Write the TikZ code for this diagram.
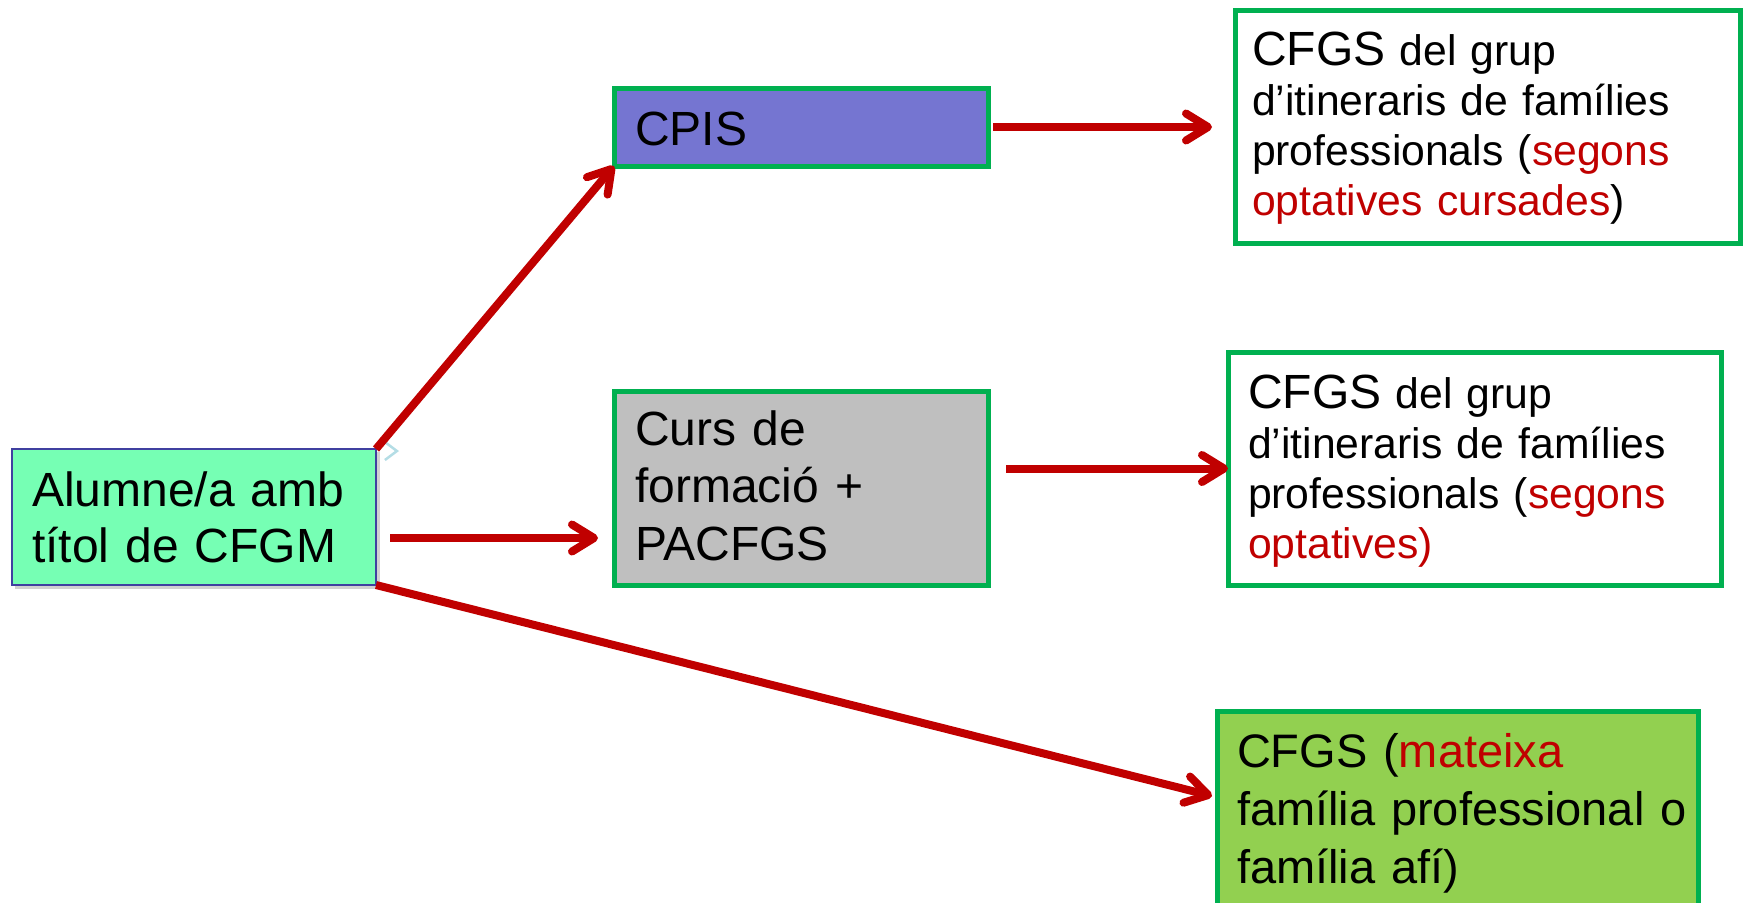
\documentclass[tikz,border=0pt]{standalone}
\usepackage{fontspec}
\setmainfont{Liberation Sans}
\usetikzlibrary{arrows.meta,calc}
\definecolor{redarrow}{HTML}{C00000}
\definecolor{gborder}{HTML}{00B050}
\definecolor{mint}{RGB}{118,255,180}
\definecolor{navyedge}{HTML}{4040A0}
\definecolor{cpisfill}{RGB}{117,117,209}
\definecolor{grayfill}{HTML}{BFBFBF}
\definecolor{limefill}{HTML}{92D050}
\definecolor{ghostblue}{RGB}{180,221,229}
\begin{document}
\begin{tikzpicture}[x=1pt,y=-1pt,
  gbox/.style={draw=gborder,line width=5pt,anchor=north west,inner sep=0pt,outer sep=0pt},
  txt/.style={anchor=base west,inner sep=0pt,outer sep=0pt,text width=560pt,align=left},
  arr/.style={draw=redarrow,line width=8pt,-{Straight Barb[length=22pt,width=27pt,line cap=round,line join=round]}},
  bigfont/.style={font=\fontsize{48}{56}\selectfont},
]
\useasboundingbox (0,0) rectangle (1744,902);
\clip (0,0) rectangle (1744,902);

% left box with shadow
\fill[black,opacity=0.18] (15,452) rectangle (380,589);
\node[draw=navyedge,line width=1.5pt,fill=mint,anchor=north west,inner sep=0pt,outer sep=0pt,
      minimum width=364pt,minimum height=136pt] (lbox) at (12,449) {};
\node[txt,bigfont] (ltext) at (32,506) {Alumne/a amb\\títol de CFGM};

% middle column
\node[gbox,fill=cpisfill,minimum width=374pt,minimum height=78pt] (cpis) at (614,88) {};
\node[txt,bigfont] (cpistext) at (635,145) {CPIS};

\node[gbox,fill=grayfill,minimum width=374pt,minimum height=194pt] (curs) at (614,391) {};
\node[txt,font=\fontsize{48}{57.5}\selectfont] (curstext) at (635,445) {Curs de\\formació +\\PACFGS};

% right column
\node[gbox,fill=white,minimum width=505pt,minimum height=233pt] (trbox) at (1235,10) {};
\node[txt,font=\fontsize{42.7}{50}\selectfont] (trtext) at (1252,65)
  {{\fontsize{48}{50}\selectfont CFGS} del grup\\d’itineraris de famílies\\professionals (\textcolor{redarrow}{segons}\\\textcolor{redarrow}{optatives cursades})};

\node[gbox,fill=white,minimum width=493pt,minimum height=233pt] (mrbox) at (1228,352) {};
\node[txt,font=\fontsize{42.7}{50}\selectfont] (mrtext) at (1248,408)
  {{\fontsize{48}{50}\selectfont CFGS} del grup\\d’itineraris de famílies\\professionals (\textcolor{redarrow}{segons}\\\textcolor{redarrow}{optatives)}};

\node[gbox,fill=limefill,minimum width=481pt,minimum height=230pt] (bbox) at (1217,711) {};
\node[txt,font=\fontsize{47}{58}\selectfont] (btext) at (1237,767)
  {CFGS (\textcolor{redarrow}{mateixa}\\família professional o\\família afí)};

% faint leftover arrowhead
\coordinate (ghostend) at (399,451);
\draw[ghostblue,line width=2.5pt,-{Straight Barb[length=12pt,width=18pt]}] ($(ghostend)+(-1,0)$) -- (ghostend);

% connectors
\draw[arr] (lbox.north east) -- (cpis.south west);
\draw[arr] ($(lbox.east)+(14,21)$) -- ($(curs.west |- lbox.east)+(-16,21)$);
\draw[arr] (lbox.south east) -- ($(bbox.north west)+(-5,85)$);
\draw[arr] ($(cpis.east)+(5,0)$) -- ($(trbox.west |- cpis.east)+(-23,0)$);
\draw[arr] ($(curs.east |- mrbox.west)+(18,0)$) -- (mrbox.west);
\end{tikzpicture}
\end{document}
